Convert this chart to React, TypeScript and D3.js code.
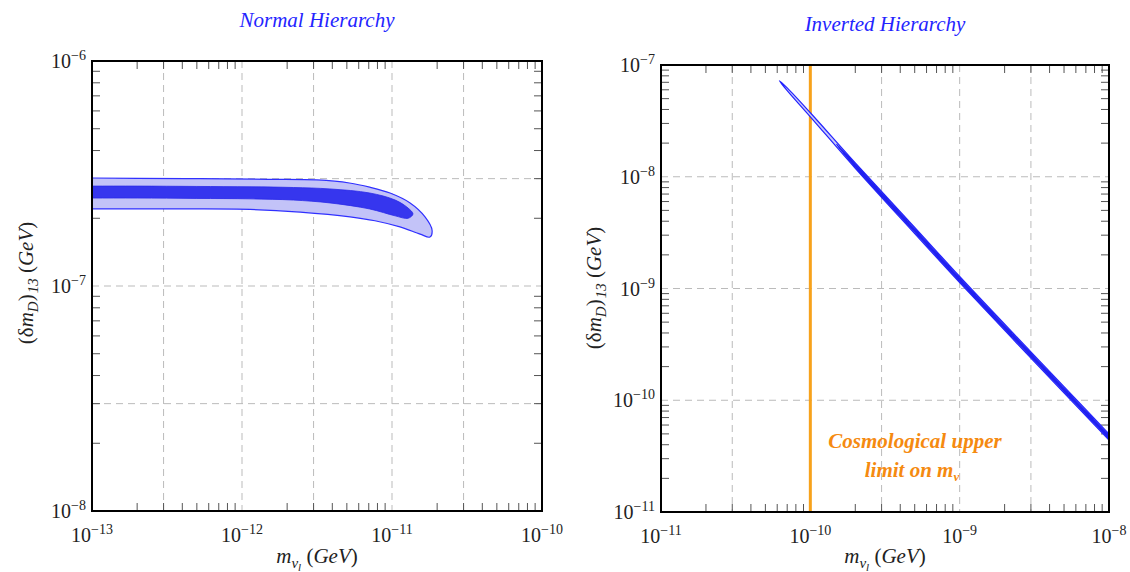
import React from "react"
import * as d3 from "d3"

// ---- data ----
const nhXTicks = [1e-13, 1e-12, 1e-11, 1e-10]
const nhYTicks = [1e-8, 1e-7, 1e-6]
const nhXGrid = [3e-13, 1e-12, 3e-12, 1e-11, 3e-11]
const nhYGrid = [3e-8, 1e-7, 3e-7]

const ihXTicks = [1e-11, 1e-10, 1e-9, 1e-8]
const ihYTicks = [1e-11, 1e-10, 1e-9, 1e-8, 1e-7]
const ihXGrid = [3e-11, 1e-10, 3e-10, 1e-9, 3e-9]
const ihYGrid = [1e-10, 1e-9, 1e-8]

// normal hierarchy, outer (light) region, [m, delta]
const nhOuter: [number, number][] = [
  [6e-14, 3.02e-7], [1e-13, 3.02e-7], [2e-13, 3.01e-7], [5.25e-13, 3.0e-7],
  [1.5e-12, 2.98e-7], [3.16e-12, 2.96e-7], [5.2e-12, 2.87e-7],
  [7.1e-12, 2.75e-7], [9.7e-12, 2.59e-7], [1.32e-11, 2.34e-7], [1.66e-11, 2.03e-7],
  [1.85e-11, 1.77e-7], [1.79e-11, 1.65e-7], [1.54e-11, 1.7e-7], [1.13e-11, 1.83e-7],
  [7.7e-12, 1.95e-7], [5.25e-12, 2.03e-7], [2.44e-12, 2.13e-7], [1.13e-12, 2.19e-7],
  [4e-13, 2.2e-7], [1.5e-13, 2.2e-7], [1e-13, 2.2e-7], [6e-14, 2.2e-7],
]
// normal hierarchy, inner (dark) region
const nhInner: [number, number][] = [
  [6e-14, 2.78e-7], [1e-13, 2.78e-7], [2e-13, 2.78e-7], [5e-13, 2.77e-7],
  [1.13e-12, 2.76e-7], [2.2e-12, 2.74e-7], [3.86e-12, 2.7e-7], [7.1e-12, 2.59e-7],
  [1.05e-11, 2.41e-7], [1.28e-11, 2.22e-7], [1.38e-11, 2.09e-7], [1.28e-11, 2.0e-7],
  [1.05e-11, 2.05e-7], [7.1e-12, 2.2e-7], [3.86e-12, 2.34e-7], [2.2e-12, 2.41e-7],
  [1.13e-12, 2.44e-7], [5e-13, 2.45e-7], [2e-13, 2.46e-7], [1e-13, 2.46e-7],
  [6e-14, 2.46e-7],
]

// inverted hierarchy band
const ihOuter: [number, number][] = [
  [6.2e-11, 7.24e-8], [7e-11, 6.24e-8], [1e-10, 3.74e-8], [2e-10, 1.33e-8],
  [5e-10, 3.53e-9], [1e-9, 1.28e-9], [3e-9, 2.71e-10], [1e-8, 4.99e-11],
  [1.2e-8, 3.8e-11], [1.2e-8, 3.4e-11],
  [1e-8, 4.39e-11], [3e-9, 2.38e-10], [1e-9, 1.13e-9], [5e-10, 3.1e-9],
  [2e-10, 1.19e-8], [1e-10, 3.44e-8], [7e-11, 5.9e-8],
]
const ihInner: [number, number][] = [
  [1.5e-10, 1.95e-8], [2e-10, 1.31e-8], [5e-10, 3.45e-9], [1e-9, 1.25e-9],
  [3e-9, 2.65e-10], [1e-8, 4.88e-11], [1.2e-8, 3.75e-11],
  [1.2e-8, 3.45e-11], [1e-8, 4.49e-11], [3e-9, 2.44e-10], [1e-9, 1.15e-9],
  [5e-10, 3.18e-9], [2e-10, 1.21e-8],
]
const cosmoLimit = 1e-10

const FONT = "'Liberation Serif', 'Times New Roman', serif"
const BLUE = "#2424ff"

const Pow10 = ({ v, x, y, anchor }: { v: number; x: number; y: number; anchor: string }) => {
  const e = Math.round(Math.log10(v))
  return (
    <text x={x} y={y} textAnchor={anchor} fontFamily={FONT} fontSize={20} fill="#222">
      10<tspan dy={-8} fontSize={14}>{"\u2212" + Math.abs(e)}</tspan>
    </text>
  )
}

type PanelProps = {
  id: string
  left: number; top: number; right: number; bottom: number
  xDomain: [number, number]; yDomain: [number, number]
  xTicks: number[]; yTicks: number[]; xGrid: number[]; yGrid: number[]
  children: (x: d3.ScaleLogarithmic<number, number>, y: d3.ScaleLogarithmic<number, number>) => React.ReactNode
}

const Panel = (p: PanelProps) => {
  const x = d3.scaleLog().domain(p.xDomain).range([p.left, p.right])
  const y = d3.scaleLog().domain(p.yDomain).range([p.bottom, p.top])
  const minorX = x.ticks().filter((v) => !p.xTicks.some((t) => Math.abs(t - v) / t < 1e-6))
  const minorY = y.ticks().filter((v) => !p.yTicks.some((t) => Math.abs(t - v) / t < 1e-6))
  return (
    <g>
      <defs>
        <clipPath id={p.id}>
          <rect x={p.left} y={p.top} width={p.right - p.left} height={p.bottom - p.top} />
        </clipPath>
      </defs>
      {p.xGrid.map((v) => (
        <line key={"gx" + v} x1={x(v)} x2={x(v)} y1={p.top} y2={p.bottom} stroke="#bbb" strokeDasharray="7,5" />
      ))}
      {p.yGrid.map((v) => (
        <line key={"gy" + v} x1={p.left} x2={p.right} y1={y(v)} y2={y(v)} stroke="#bbb" strokeDasharray="7,5" />
      ))}
      {minorX.map((v) => (
        <g key={"mx" + v} stroke="#555">
          <line x1={x(v)} x2={x(v)} y1={p.bottom} y2={p.bottom - 8} />
          <line x1={x(v)} x2={x(v)} y1={p.top} y2={p.top + 8} />
        </g>
      ))}
      {minorY.map((v) => (
        <g key={"my" + v} stroke="#555">
          <line x1={p.left} x2={p.left + 8} y1={y(v)} y2={y(v)} />
          <line x1={p.right} x2={p.right - 8} y1={y(v)} y2={y(v)} />
        </g>
      ))}
      <g clipPath={`url(#${p.id})`}>{p.children(x, y)}</g>
      <rect x={p.left} y={p.top} width={p.right - p.left} height={p.bottom - p.top} fill="none" stroke="#000" strokeWidth={2} />
      {p.xTicks.map((v) => (
        <Pow10 key={"tx" + v} v={v} x={x(v)} y={p.bottom + 31} anchor="middle" />
      ))}
      {p.yTicks.map((v) => (
        <Pow10 key={"ty" + v} v={v} x={p.left - 6} y={y(v) + 7} anchor="end" />
      ))}
    </g>
  )
}

const XLabel = ({ cx, y }: { cx: number; y: number }) => (
  <text x={cx} y={y} textAnchor="middle" fontFamily={FONT} fontSize={21} fill="#222">
    <tspan fontStyle="italic">m</tspan>
    <tspan dy={5} fontSize={15} fontStyle="italic">ν</tspan>
    <tspan dy={3} fontSize={11} fontStyle="italic">l</tspan>
    <tspan dy={-8}> (</tspan>
    <tspan fontStyle="italic">GeV</tspan>
    <tspan>)</tspan>
  </text>
)

const YLabel = ({ x, cy }: { x: number; cy: number }) => (
  <text transform={`translate(${x},${cy}) rotate(-90)`} textAnchor="middle" fontFamily={FONT} fontSize={21} fill="#222">
    <tspan>(δ</tspan>
    <tspan fontStyle="italic">m</tspan>
    <tspan dy={5} fontSize={15} fontStyle="italic">D</tspan>
    <tspan dy={-5}>)</tspan>
    <tspan dy={5} dx={1} fontSize={15} fontStyle="italic">13</tspan>
    <tspan dy={-5}> (</tspan>
    <tspan fontStyle="italic">GeV</tspan>
    <tspan>)</tspan>
  </text>
)

export default function App() {
  const closed = (x: any, y: any) =>
    d3.line<[number, number]>().x((d) => x(d[0])).y((d) => y(d[1])).curve(d3.curveCatmullRomClosed.alpha(0.5))
  return (
    <svg width={1130} height={572} style={{ position: "absolute", left: 0, top: 0, background: "#fff" }}>
      <rect width={1130} height={572} fill="#fff" />
      <text x={317} y={27} textAnchor="middle" fontFamily={FONT} fontSize={21} fontStyle="italic" fill={BLUE}>
        Normal Hierarchy
      </text>
      <text x={885} y={31} textAnchor="middle" fontFamily={FONT} fontSize={21} fontStyle="italic" fill={BLUE}>
        Inverted Hierarchy
      </text>

      <Panel
        id="clipNH" left={92} top={61} right={542} bottom={511}
        xDomain={[1e-13, 1e-10]} yDomain={[1e-8, 1e-6]}
        xTicks={nhXTicks} yTicks={nhYTicks} xGrid={nhXGrid} yGrid={nhYGrid}
      >
        {(x, y) => (
          <g>
            <path d={closed(x, y)(nhOuter) || ""} fill="#c3c3f8" stroke="#3030ff" strokeWidth={1.2} />
            <path d={closed(x, y)(nhInner) || ""} fill="#3636ee" stroke="#2a2ae8" strokeWidth={0.8} />
          </g>
        )}
      </Panel>

      <Panel
        id="clipIH" left={661} top={65} right={1109} bottom={512}
        xDomain={[1e-11, 1e-8]} yDomain={[1e-11, 1e-7]}
        xTicks={ihXTicks} yTicks={ihYTicks} xGrid={ihXGrid} yGrid={ihYGrid}
      >
        {(x, y) => (
          <g>
            <line x1={x(cosmoLimit)} x2={x(cosmoLimit)} y1={65} y2={512} stroke="#f7a21b" strokeWidth={3} />
            <path d={closed(x, y)(ihOuter) || ""} fill="#c8c8fa" stroke="#2222ff" strokeWidth={1.2} />
            <path d={closed(x, y)(ihInner) || ""} fill="#1f1ff0" stroke="#1f1ff0" strokeWidth={1} />
          </g>
        )}
      </Panel>

      <text x={915} y={448} textAnchor="middle" fontFamily={FONT} fontSize={21} fontStyle="italic" fontWeight="bold" fill="#f58a10">
        Cosmological upper
      </text>
      <text x={912} y={477} textAnchor="middle" fontFamily={FONT} fontSize={21} fontStyle="italic" fontWeight="bold" fill="#f58a10">
        limit on m<tspan dy={4} fontSize={13}>ν</tspan>
      </text>

      <XLabel cx={317} y={563} />
      <XLabel cx={885} y={563} />
      <YLabel x={33} cy={283} />
      <YLabel x={601} cy={288} />
    </svg>
  )
}
